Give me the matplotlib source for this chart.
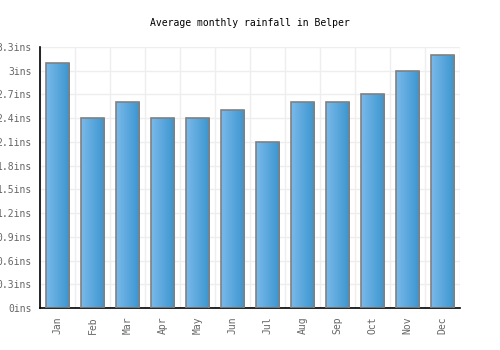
import numpy as np
import matplotlib
matplotlib.use("Agg")
import matplotlib.pyplot as plt
from matplotlib.colors import LinearSegmentedColormap

# data
months = ["Jan", "Feb", "Mar", "Apr", "May", "Jun",
          "Jul", "Aug", "Sep", "Oct", "Nov", "Dec"]
rainfall = [3.1, 2.4, 2.6, 2.4, 2.4, 2.5, 2.1, 2.6, 2.6, 2.7, 3.0, 3.2]
yticks = [0, 0.3, 0.6, 0.9, 1.2, 1.5, 1.8, 2.1, 2.4, 2.7, 3.0, 3.3]
ytick_labels = ["0ins", "0.3ins", "0.6ins", "0.9ins", "1.2ins", "1.5ins",
                "1.8ins", "2.1ins", "2.4ins", "2.7ins", "3ins", "3.3ins"]

plt.rcParams['font.family'] = ['DejaVu Sans Mono']

fig = plt.figure(figsize=(5, 3.5), dpi=100)
ax = fig.add_axes([0.08, 0.12, 0.84, 0.746])

x = np.arange(len(months))
bars = ax.bar(x, rainfall, width=0.66, color="none", edgecolor="#808080",
              linewidth=1.2, zorder=3)

# left-to-right gradient fill, clipped to each bar
cmap = LinearSegmentedColormap.from_list("blue", ["#7ab9ea", "#3a95cf"])
grad = np.linspace(0, 1, 64).reshape(1, -1)
for b in bars:
    bx, bw, bh = b.get_x(), b.get_width(), b.get_height()
    im = ax.imshow(grad, cmap=cmap, aspect="auto",
                   extent=[bx, bx + bw, 0, bh], zorder=2)
    im.set_clip_path(b)

ax.set_xlim(-0.5, len(months) - 0.5)
ax.set_ylim(0, 3.3)
ax.set_yticks(yticks)
ax.set_yticklabels(ytick_labels)
ax.set_xticks(x)
ax.set_xticklabels(months, rotation=90)
ax.set_xticks(np.arange(len(months) + 1) - 0.5, minor=True)

ax.tick_params(axis="both", which="both", length=0, labelsize=7,
               labelcolor="#666666")
ax.tick_params(axis="y", pad=6)
ax.tick_params(axis="x", pad=6)
ax.grid(True, axis="y", color="#eeeeee", linewidth=1, zorder=0)
ax.grid(True, axis="x", which="minor", color="#eeeeee", linewidth=1, zorder=0)
ax.grid(False, axis="x", which="major")

for side in ["top", "right"]:
    ax.spines[side].set_visible(False)
for side in ["left", "bottom"]:
    ax.spines[side].set_color("black")
    ax.spines[side].set_linewidth(1.2)

fig.text(0.5, 0.934, "Average monthly rainfall in Belper", ha="center",
         va="center", fontsize=7, color="black")

fig.savefig("out.png", dpi=100)
